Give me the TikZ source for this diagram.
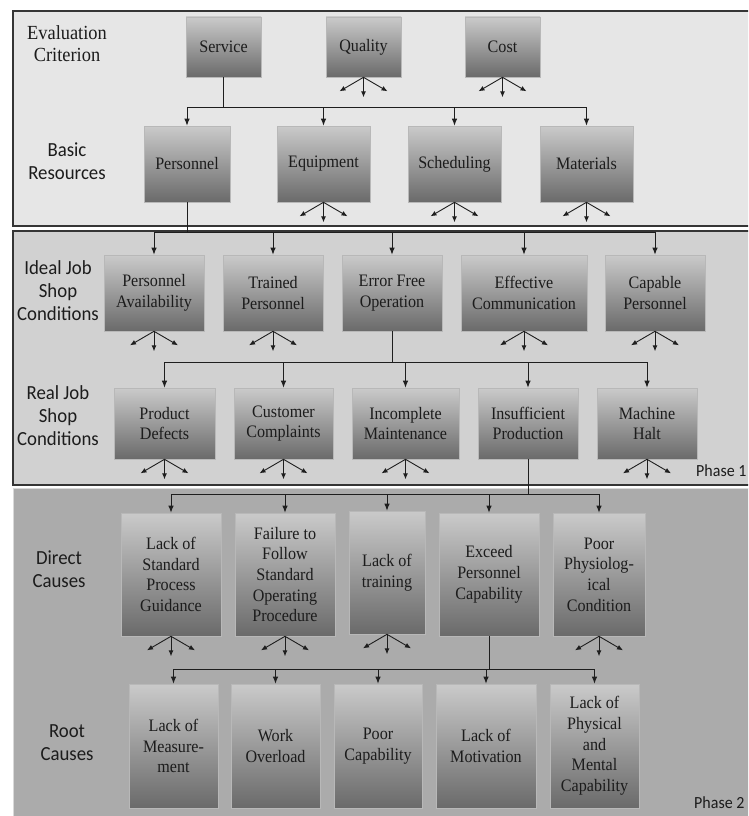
\documentclass[tikz,border=0pt]{standalone}
\usepackage{fontspec}
\setmainfont[FakeStretch=0.92]{Liberation Serif}
\newfontfamily\lblfont[FakeStretch=0.94]{Carlito}
\usetikzlibrary{arrows.meta}
\definecolor{pone}{HTML}{E6E6E6}
\definecolor{ptwo}{HTML}{D1D1D1}
\definecolor{pthree}{HTML}{ABABAB}
\definecolor{boxtop}{HTML}{CACACA}
\definecolor{boxbot}{HTML}{6A6A6A}
\definecolor{boxedge}{HTML}{B8B8B8}
\definecolor{lineclr}{HTML}{1E1E1E}
\definecolor{frameclr}{HTML}{353535}
\definecolor{txtclr}{HTML}{1C1C1C}
\newcommand\mybox[5]{\node[box,minimum width=#4pt,minimum height=#5pt] (#1) at (#2) {#3};}
\newcommand\fanout[1]{%
  \draw[fanarrow] (#1.south) -- ++(-24,14);
  \draw[fanarrow] (#1.south) -- ++(0,20);
  \draw[fanarrow] (#1.south) -- ++(24,14);}
\begin{document}
\begin{tikzpicture}[x=1pt,y=-1pt,
  box/.style={draw=boxedge,line width=0.6pt,top color=boxtop,bottom color=boxbot,
    inner sep=0pt,align=center,text=txtclr,font=\fontsize{17.5}{20.7}\selectfont},
  conn/.style={draw=lineclr,line width=1pt},
  carrow/.style={conn,-{Latex[length=7pt,width=5.5pt]}},
  fanarrow/.style={draw=lineclr,line width=0.9pt,-{Latex[length=6pt,width=5pt]}},
  grplbl/.style={align=center,text=txtclr,font=\lblfont\fontsize{20}{23}\selectfont},
  evallbl/.style={align=center,text=txtclr,font=\fontsize{20}{22}\selectfont},
  phaselbl/.style={anchor=west,text=txtclr,font=\lblfont\fontsize{17}{20}\selectfont,inner sep=0pt}]
\useasboundingbox (0,0) rectangle (748,816);
\clip (0,0) rectangle (748,816);
\fill[white] (0,0) rectangle (748,816);
% panels
\draw[fill=pone,draw=frameclr,line width=1.3pt] (13,11) rectangle (770,226);
\draw[fill=ptwo,draw=frameclr,line width=1.3pt] (13,231) rectangle (770,485);
\draw[fill=pthree,draw=white!85!black,line width=0.8pt] (13,488) rectangle (770,840);
% group labels
\node[evallbl] (lEval) at (67,44) {Evaluation\\Criterion};
\node[grplbl] (lBasic) at (67,161) {Basic\\Resources};
\node[grplbl] (lIdeal) at (58,291) {Ideal Job\\Shop\\Conditions};
\node[grplbl] (lReal) at (58,416) {Real Job\\Shop\\Conditions};
\node[grplbl] (lDirect) at (59,569) {Direct\\Causes};
\node[grplbl] (lRoot) at (67,743) {Root\\Causes};
\node[phaselbl] (ph1) at (696,471) {Phase 1};
\node[phaselbl] (ph2) at (694,803) {Phase 2};
% evaluation criteria
\mybox{svc}{223.5,47}{Service}{75}{60}
\mybox{qua}{363.5,47}{Quality}{75}{60}
\mybox{cst}{502.5,47}{Cost}{75}{60}
% basic resources
\mybox{per}{187,164}{Personnel}{86}{76}
\mybox{equ}{323.5,164}{Equipment}{93}{76}
\mybox{sch}{454.5,164}{Scheduling}{93}{76}
\mybox{mat}{586.5,164}{Materials}{93}{76}
% ideal
\mybox{pav}{154,293}{Personnel\\Availability}{100}{76}
\mybox{trp}{273,293}{Trained\\Personnel}{100}{76}
\mybox{efo}{392,293}{Error Free\\Operation}{100}{76}
\mybox{efc}{524,293}{Effective\\Communication}{126}{76}
\mybox{cap}{655,293}{Capable\\Personnel}{100}{76}
% real
\mybox{pdf}{164.5,423.5}{Product\\Defects}{101}{71}
\mybox{ccp}{283.5,423.5}{Customer\\Complaints}{99}{71}
\mybox{icm}{405.5,423.5}{Incomplete\\Maintenance}{107}{71}
\mybox{isp}{528,423.5}{Insufficient\\Production}{100}{71}
\mybox{mhl}{647,423.5}{Machine\\Halt}{100}{71}
% direct causes
\mybox{lsp}{171,574.5}{Lack of\\Standard\\Process\\Guidance}{100}{123}
\mybox{ffs}{285,574.5}{Failure to\\Follow\\Standard\\Operating\\Procedure}{100}{123}
\mybox{ltr}{387,572.5}{Lack of\\training}{76}{123}
\mybox{epc}{489,574.5}{Exceed\\Personnel\\Capability}{100}{123}
\mybox{ppc}{599,574.5}{Poor\\Physiolog-\\ical\\Condition}{92}{123}
% root causes
\mybox{lms}{173.5,746}{Lack of\\Measure-\\ment}{89}{124}
\mybox{wol}{275.5,746}{Work\\Overload}{89}{124}
\mybox{pcp}{378,746}{Poor\\Capability}{88}{124}
\mybox{lmo}{486,746}{Lack of\\Motivation}{100}{124}
\mybox{lpm}{594.5,746}{Lack of\\Physical\\and\\Mental\\Capability}{89}{124}
% tree connectors
\coordinate (busA) at (0,107);
\draw[conn] (svc.south) -- (svc.south |- busA);
\draw[conn] (per.north |- busA) -- (mat.north |- busA);
\foreach \n in {per,equ,sch,mat} \draw[carrow] (\n.north |- busA) -- (\n.north);
\coordinate (busB) at (0,232);
\draw[conn] (per.south) -- (per.south |- busB);
\draw[conn] (pav.north |- busB) -- (cap.north |- busB);
\foreach \n in {pav,trp,efo,efc,cap} \draw[carrow] (\n.north |- busB) -- (\n.north);
\coordinate (busC) at (0,362);
\draw[conn] (efo.south) -- (efo.south |- busC);
\draw[conn] (pdf.north |- busC) -- (mhl.north |- busC);
\foreach \n in {pdf,ccp,icm,isp,mhl} \draw[carrow] (\n.north |- busC) -- (\n.north);
\coordinate (busD) at (0,494);
\draw[conn] (isp.south) -- (isp.south |- busD);
\draw[conn] (lsp.north |- busD) -- (ppc.north |- busD);
\foreach \n in {lsp,ffs,ltr,epc,ppc} \draw[carrow] (\n.north |- busD) -- (\n.north);
\coordinate (busE) at (0,669);
\draw[conn] (epc.south) -- (epc.south |- busE);
\draw[conn] (lms.north |- busE) -- (lpm.north |- busE);
\foreach \n in {lms,wol,pcp,lmo,lpm} \draw[carrow] (\n.north |- busE) -- (\n.north);
% fans
\foreach \n in {qua,cst,equ,sch,mat,pav,trp,efc,cap,pdf,ccp,icm,mhl,lsp,ffs,ltr,ppc} {\fanout{\n}}
\end{tikzpicture}
\end{document}
